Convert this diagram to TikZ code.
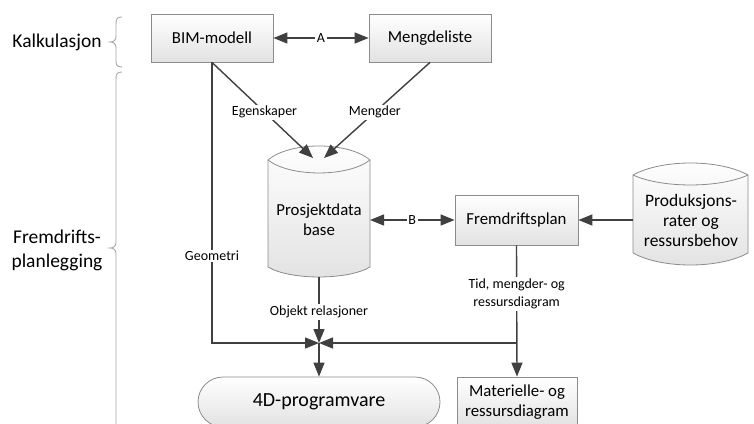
\documentclass[tikz,border=0pt]{standalone}
\usepackage{fontspec}
\setmainfont{Carlito}
\usetikzlibrary{arrows.meta}
\definecolor{edge}{HTML}{404040}
\definecolor{rim}{HTML}{8C8C8C}
\definecolor{shadebot}{HTML}{E2E2E2}
\definecolor{bracecol}{HTML}{A6A6A6}
\begin{document}
\begin{tikzpicture}[x=1pt,y=-1pt,
  box/.style={draw=rim, line width=0.8pt, top color=white, bottom color=shadebot,
    font=\fontsize{16.8}{20}\selectfont, align=center, inner sep=0pt},
  drum/.style={draw=rim, line width=0.8pt, top color=white, bottom color=shadebot},
  drumtext/.style={font=\fontsize{16.8}{20}\selectfont, align=center, inner sep=0pt},
  conn/.style={draw=edge, line width=1.4pt},
  tip/.style={-{Triangle[length=14pt,width=11pt]}},
  tips/.style={{Triangle[length=14pt,width=11pt]}-{Triangle[length=14pt,width=11pt]}},
  lbl/.style={fill=white, font=\fontsize{14}{18}\selectfont, inner sep=1.5pt,
    align=center},
  brace/.style={draw=bracecol, line width=0.9pt},
  side/.style={font=\fontsize{19.5}{24}\selectfont, align=center}]
\useasboundingbox (0,0) rectangle (754,423);
\clip (0,0) rectangle (754,423);

% phase labels and braces
\node[side] (kalk) at (57,42) {Kalkulasjon};
\node[side] (fremd) at (57,250) {Fremdrifts-\\planlegging};
\draw[brace] (122,17) .. controls (117,17) and (116,19) .. (116,24) -- (116,36)
  .. controls (116,40) and (114,42) .. (110,42)
  .. controls (114,42) and (116,44) .. (116,48) -- (116,61)
  .. controls (116,65) and (117,67) .. (122,67);
\draw[brace] (122,72) .. controls (117,72) and (116,74) .. (116,79) -- (116,242)
  .. controls (116,246) and (114,248) .. (110,248)
  .. controls (114,248) and (116,250) .. (116,254) -- (116,430);

% rectangular boxes
\node[box, minimum width=122pt, minimum height=48pt] (bim) at (212,38) {BIM-modell};
\node[box, minimum width=122pt, minimum height=48pt] (meng) at (430,38) {Mengdeliste};
\node[box, minimum width=123pt, minimum height=50pt] (fp) at (516.5,220) {Fremdriftsplan};
\node[box, minimum width=120pt, minimum height=50pt] (mat) at (517,402) {Materielle- og\\ressursdiagram};
\node[box, minimum width=242pt, minimum height=50pt, rounded corners=25pt,
  font=\fontsize{20}{24}\selectfont] (prog) at (319,402) {4D-programvare};

% project database drum
\path[drum] (268,160) .. controls (290,141.3) and (348,141.3) .. (370,160)
  -- (370,267) .. controls (348,280.3) and (290,280.3) .. (268,267) -- cycle;
\draw[draw=rim, line width=0.8pt] (268,160) .. controls (290,177.3) and (348,177.3) .. (370,160);
\node[drumtext] (db) at (319,220) {Prosjektdata\\base};

% production rates drum
\path[drum] (633,175) .. controls (662,159) and (719,159) .. (748,175)
  -- (748,253) .. controls (719,269) and (662,269) .. (633,253) -- cycle;
\draw[draw=rim, line width=0.8pt] (633,175) .. controls (662,188.3) and (719,188.3) .. (748,175);
\node[drumtext, font=\fontsize{17.5}{20}\selectfont] (prod) at (691,220) {Produksjons-\\rater og\\ressursbehov};

% connection points
\coordinate (dbinL) at (313,158);
\coordinate (dbinR) at (324,158);
\coordinate (dbright) at (370,220);
\coordinate (dbbot) at (319,277);
\coordinate (prodleft) at (633,220);
\coordinate (jn) at (319,343);
\coordinate (gcorner) at (212,343);
\coordinate (tbranch) at (517,343);

% connectors
\draw[conn, tips] (bim) -- node[lbl] {A} (meng);
\draw[conn, tip] (bim.south) -- node[lbl, pos=0.52] {Egenskaper} (dbinL);
\draw[conn, tip] (meng.south) -- node[lbl, pos=0.52] {Mengder} (dbinR);
\draw[conn, tips] (dbright) -- node[lbl] {B} (fp.west);
\draw[conn, tip] (prodleft) -- (fp.east);
\draw[conn, tip] (bim.south) -- node[lbl, pos=0.69] {Geometri} (gcorner) -- (jn);
\draw[conn, tip] (dbbot) -- node[lbl, pos=0.53] {Objekt relasjoner} (jn);
\draw[conn, tip] (fp.south) -- node[lbl, pos=0.37] {Tid, mengder- og\\ressursdiagram} (mat.north);
\draw[conn, tip] (tbranch) -- (jn);
\draw[conn, tip] (jn) -- (prog.north);
\end{tikzpicture}
\end{document}
